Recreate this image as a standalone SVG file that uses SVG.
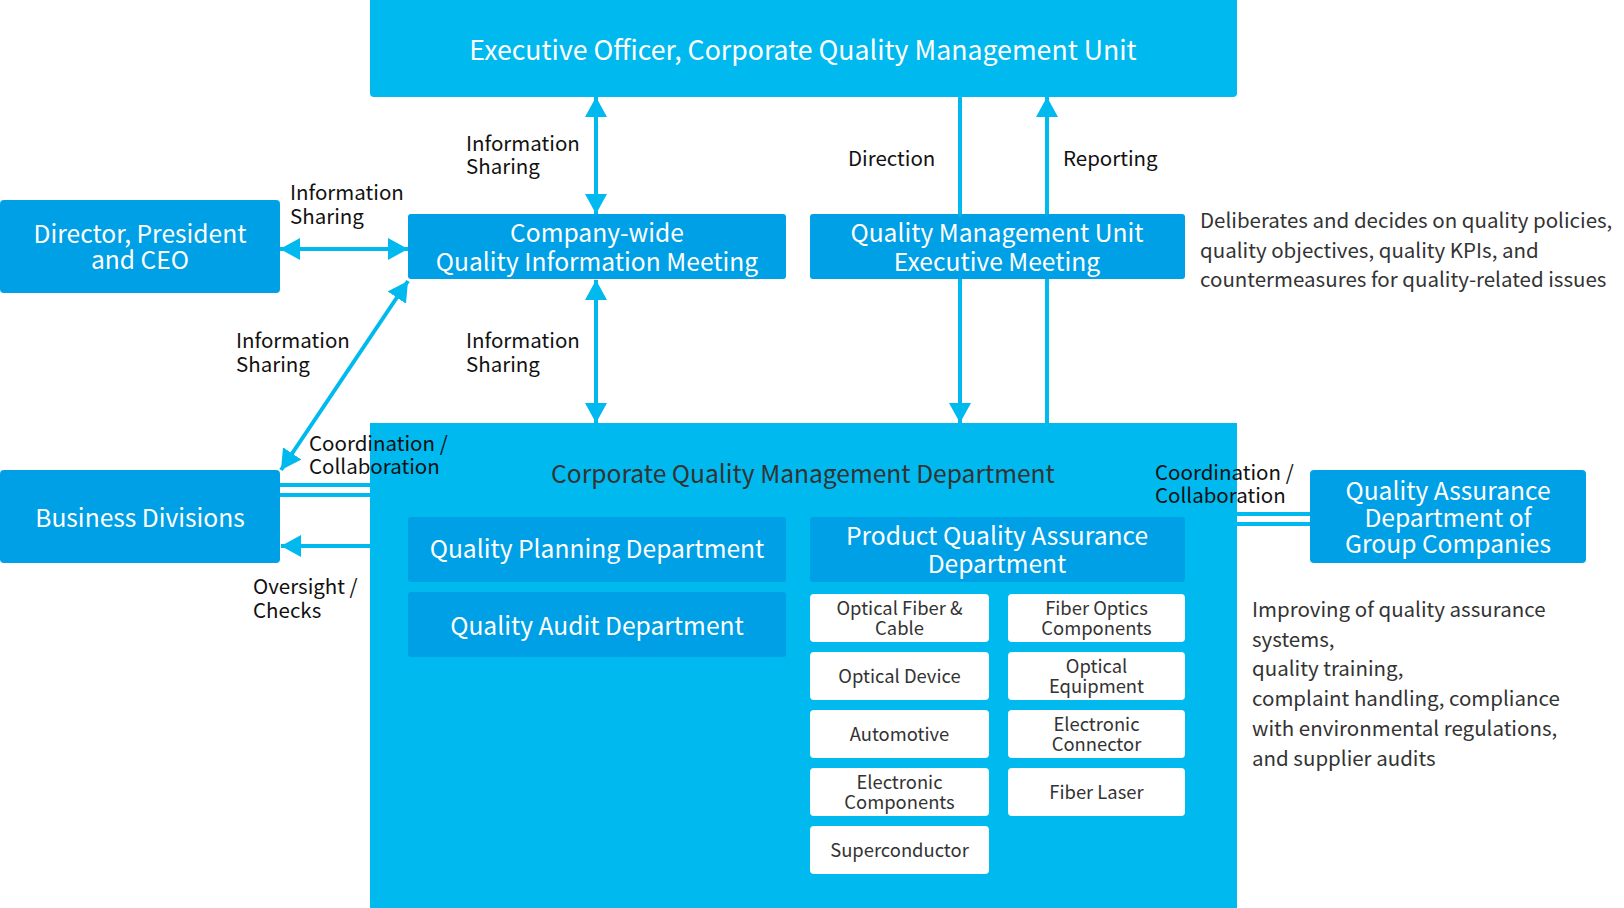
<svg xmlns="http://www.w3.org/2000/svg" width="1624" height="908" viewBox="0 0 1624 908">
<style>
text{font-family:"Noto Sans CJK JP","Source Sans Pro","Open Sans",sans-serif}
.cyan{fill:#00B9EF}
.blue{fill:#00A0E6}
.white{fill:#FFFFFF}
.tw{fill:#FFFFFF;font-size:24.6px;text-anchor:middle}
.tt{fill:#FFFFFF;font-size:26.7px;text-anchor:middle}
.tg{fill:#333333;font-size:18.4px;text-anchor:middle}
.tm{fill:#333333;font-size:24.6px;text-anchor:middle}
.lab{fill:#111111;font-size:20.5px}
.desc{fill:#333333;font-size:20.5px}
.ln{stroke:#00B9EF;stroke-width:4;fill:none}
</style>
<defs>
<marker id="ah" markerUnits="userSpaceOnUse" markerWidth="20" markerHeight="22" refX="20" refY="11" orient="auto-start-reverse" viewBox="0 0 20 22">
<path d="M0,0 L20,11 L0,22 z" fill="#00B9EF"/>
</marker>
</defs>

<g id="exec-officer">
<rect class="cyan" x="370" y="-6" width="867" height="103" rx="4"/>
<text class="tt" x="803" y="60">Executive Officer, Corporate Quality Management Unit</text>
</g>

<g id="director">
<rect class="blue" x="0" y="200" width="280" height="93" rx="4"/>
<text class="tw" x="140" y="243">Director, President</text>
<text class="tw" x="140" y="269">and CEO</text>
</g>

<g id="company-wide-meeting">
<rect class="blue" x="408" y="214" width="378" height="65" rx="3"/>
<text class="tw" x="597" y="242">Company-wide</text>
<text class="tw" x="597" y="271">Quality Information Meeting</text>
</g>

<g id="qmu-exec-meeting">
<rect class="blue" x="810" y="214" width="375" height="65" rx="3"/>
<text class="tw" x="997" y="242">Quality Management Unit</text>
<text class="tw" x="997" y="271">Executive Meeting</text>
</g>

<g id="qmu-exec-desc">
<text class="desc" x="1200" y="228">Deliberates and decides on quality policies,</text>
<text class="desc" x="1200" y="258">quality objectives, quality KPIs, and</text>
<text class="desc" x="1200" y="287">countermeasures for quality-related issues</text>
</g>

<g id="business-divisions">
<rect class="blue" x="0" y="470" width="280" height="93" rx="4"/>
<text class="tw" x="140" y="527">Business Divisions</text>
</g>

<g id="corporate-qm-dept">
<rect class="cyan" x="370" y="423" width="867" height="495"/>
<text class="tm" x="803" y="483">Corporate Quality Management Department</text>
</g>

<g id="quality-planning">
<rect class="blue" x="408" y="517" width="378" height="65" rx="3"/>
<text class="tw" x="597" y="558">Quality Planning Department</text>
</g>

<g id="quality-audit">
<rect class="blue" x="408" y="592" width="378" height="65" rx="3"/>
<text class="tw" x="597" y="635">Quality Audit Department</text>
</g>

<g id="product-qa">
<rect class="blue" x="810" y="517" width="375" height="65" rx="3"/>
<text class="tw" x="997" y="545">Product Quality Assurance</text>
<text class="tw" x="997" y="573">Department</text>
</g>

<g id="optical-fiber-cable">
<rect class="white" x="810" y="594" width="179" height="48" rx="4"/>
<text class="tg" x="899.5" y="615">Optical Fiber &amp;</text>
<text class="tg" x="899.5" y="635">Cable</text>
</g>
<g id="fiber-optics-components">
<rect class="white" x="1008" y="594" width="177" height="48" rx="4"/>
<text class="tg" x="1096.5" y="615">Fiber Optics</text>
<text class="tg" x="1096.5" y="635">Components</text>
</g>
<g id="optical-device">
<rect class="white" x="810" y="652" width="179" height="48" rx="4"/>
<text class="tg" x="899.5" y="683">Optical Device</text>
</g>
<g id="optical-equipment">
<rect class="white" x="1008" y="652" width="177" height="48" rx="4"/>
<text class="tg" x="1096.5" y="673">Optical</text>
<text class="tg" x="1096.5" y="693">Equipment</text>
</g>
<g id="automotive">
<rect class="white" x="810" y="710" width="179" height="48" rx="4"/>
<text class="tg" x="899.5" y="741">Automotive</text>
</g>
<g id="electronic-connector">
<rect class="white" x="1008" y="710" width="177" height="48" rx="4"/>
<text class="tg" x="1096.5" y="731">Electronic</text>
<text class="tg" x="1096.5" y="751">Connector</text>
</g>
<g id="electronic-components">
<rect class="white" x="810" y="768" width="179" height="48" rx="4"/>
<text class="tg" x="899.5" y="789">Electronic</text>
<text class="tg" x="899.5" y="809">Components</text>
</g>
<g id="fiber-laser">
<rect class="white" x="1008" y="768" width="177" height="48" rx="4"/>
<text class="tg" x="1096.5" y="799">Fiber Laser</text>
</g>
<g id="superconductor">
<rect class="white" x="810" y="826" width="179" height="48" rx="4"/>
<text class="tg" x="899.5" y="857">Superconductor</text>
</g>

<g id="qa-group-companies">
<rect class="blue" x="1310" y="470" width="276" height="93" rx="4"/>
<text class="tw" x="1448" y="500">Quality Assurance</text>
<text class="tw" x="1448" y="527">Department of</text>
<text class="tw" x="1448" y="553">Group Companies</text>
</g>

<g id="qa-group-desc">
<text class="desc" x="1252" y="617">Improving of quality assurance</text>
<text class="desc" x="1252" y="647">systems,</text>
<text class="desc" x="1252" y="676">quality training,</text>
<text class="desc" x="1252" y="706">complaint handling, compliance</text>
<text class="desc" x="1252" y="736">with environmental regulations,</text>
<text class="desc" x="1252" y="766">and supplier audits</text>
</g>

<g id="connectors">
<line class="ln" x1="596" y1="97" x2="596" y2="214" marker-start="url(#ah)" marker-end="url(#ah)"/>
<line class="ln" x1="280" y1="249" x2="408" y2="249" marker-start="url(#ah)" marker-end="url(#ah)"/>
<line class="ln" x1="408" y1="281" x2="281" y2="470" marker-start="url(#ah)" marker-end="url(#ah)"/>
<line class="ln" x1="596" y1="280" x2="596" y2="423" marker-start="url(#ah)" marker-end="url(#ah)"/>
<line class="ln" x1="960" y1="97" x2="960" y2="214"/>
<line class="ln" x1="960" y1="279" x2="960" y2="423" marker-end="url(#ah)"/>
<line class="ln" x1="1047" y1="423" x2="1047" y2="279"/>
<line class="ln" x1="1047" y1="214" x2="1047" y2="97" marker-end="url(#ah)"/>
<line class="ln" x1="280" y1="485" x2="370" y2="485"/>
<line class="ln" x1="280" y1="495" x2="370" y2="495"/>
<line class="ln" x1="370" y1="546" x2="281" y2="546" marker-end="url(#ah)"/>
<line class="ln" x1="1237" y1="514" x2="1310" y2="514"/>
<line class="ln" x1="1237" y1="524" x2="1310" y2="524"/>
<text class="lab" x="466" y="151">Information</text>
<text class="lab" x="466" y="174">Sharing</text>
<text class="lab" x="290" y="200">Information</text>
<text class="lab" x="290" y="224">Sharing</text>
<text class="lab" x="236" y="348">Information</text>
<text class="lab" x="236" y="372">Sharing</text>
<text class="lab" x="466" y="348">Information</text>
<text class="lab" x="466" y="372">Sharing</text>
<text class="lab" x="848" y="166">Direction</text>
<text class="lab" x="1063" y="166">Reporting</text>
<text class="lab" x="309" y="451">Coordination /</text>
<text class="lab" x="309" y="474">Collaboration</text>
<text class="lab" x="253" y="594">Oversight /</text>
<text class="lab" x="253" y="618">Checks</text>
<text class="lab" x="1155" y="480">Coordination /</text>
<text class="lab" x="1155" y="503">Collaboration</text>
</g>
</svg>
